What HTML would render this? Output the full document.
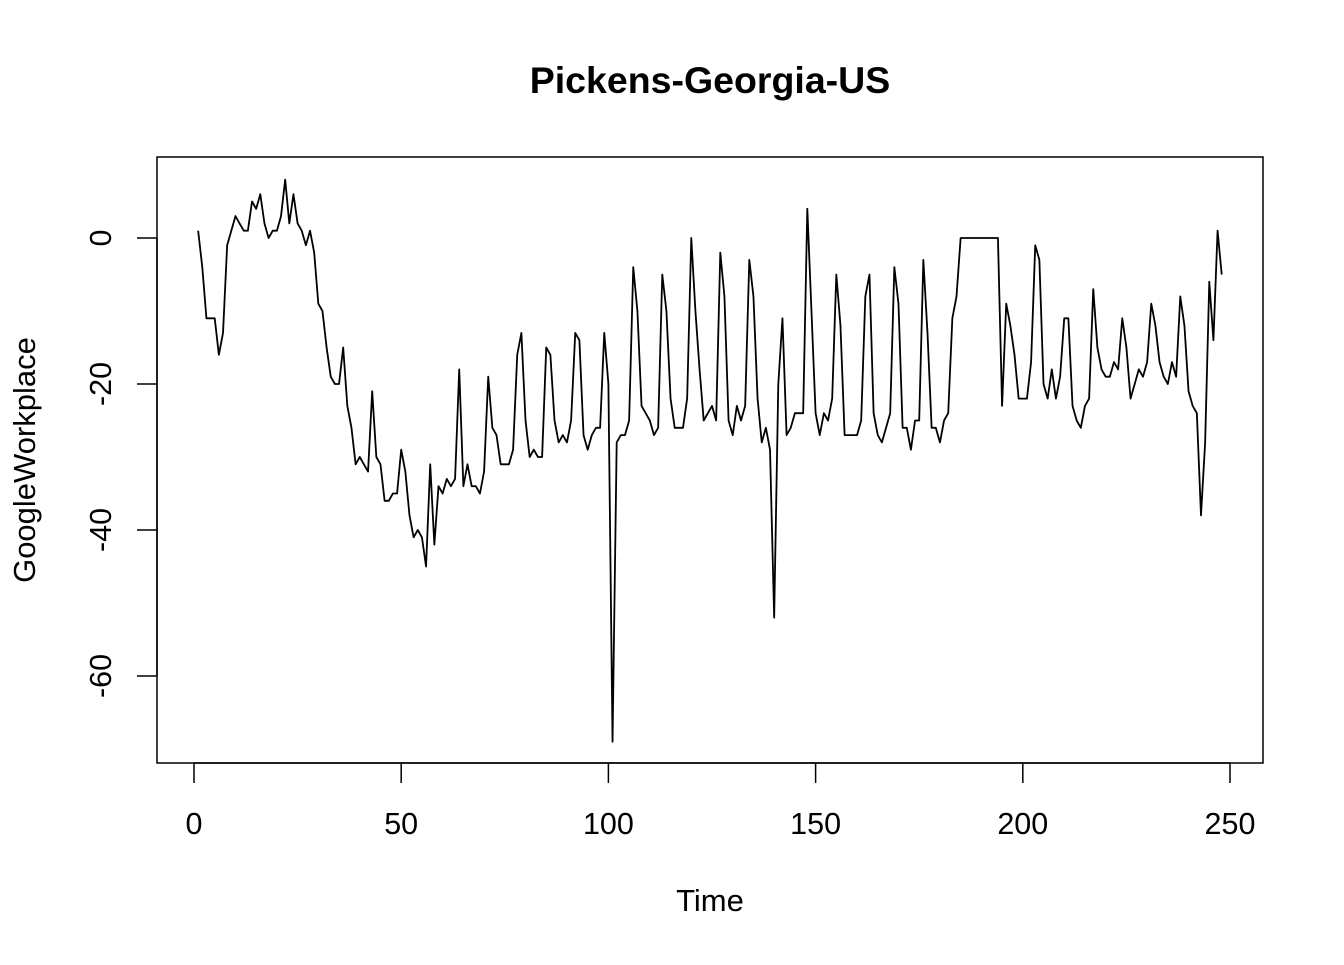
<!DOCTYPE html>
<html><head><meta charset="utf-8"><style>
body{margin:0;background:#fff}
svg text{font-family:"Liberation Sans",Arial,sans-serif;fill:#000}
</style></head><body>
<svg id="chart" width="1344" height="960" viewBox="0 0 1344 960" xmlns="http://www.w3.org/2000/svg">
<rect width="1344" height="960" fill="#fff"/>
<text x="710" y="93" font-size="37.5" font-weight="bold" text-anchor="middle">Pickens-Georgia-US</text>
<rect x="157" y="157" width="1106" height="606" fill="none" stroke="#000" stroke-width="1.5"/>
<g id="xaxis"></g>
<g id="yaxis"></g>
<text x="710" y="911" font-size="31" text-anchor="middle">Time</text>
<text transform="translate(35,460) rotate(-90)" font-size="31" text-anchor="middle">GoogleWorkplace</text>
<g id="series"></g>
</svg>
<script>
const xTicks=[0,50,100,150,200,250];
const yTicks=[0,-20,-40,-60];
const values=[1,-4,-11,-11,-11,-16,-13,-1,1,3,
2,1,1,5,4,6,2,0,1,1,
3,8,2,6,2,1,-1,1,-2,-9,
-10,-15,-19,-20,-20,-15,-23,-26,-31,-30,
-31,-32,-21,-30,-31,-36,-36,-35,-35,-29,
-32,-38,-41,-40,-41,-45,-31,-42,-34,-35,
-33,-34,-33,-18,-34,-31,-34,-34,-35,-32,
-19,-26,-27,-31,-31,-31,-29,-16,-13,-25,
-30,-29,-30,-30,-15,-16,-25,-28,-27,-28,
-25,-13,-14,-27,-29,-27,-26,-26,-13,-20,
-69,-28,-27,-27,-25,-4,-10,-23,-24,-25,
-27,-26,-5,-10,-22,-26,-26,-26,-22,0,
-10,-18,-25,-24,-23,-25,-2,-8,-25,-27,
-23,-25,-23,-3,-8,-22,-28,-26,-29,-52,
-20,-11,-27,-26,-24,-24,-24,4,-10,-24,
-27,-24,-25,-22,-5,-12,-27,-27,-27,-27,
-25,-8,-5,-24,-27,-28,-26,-24,-4,-9,
-26,-26,-29,-25,-25,-3,-13,-26,-26,-28,
-25,-24,-11,-8,0,0,0,0,0,0,
0,0,0,0,-23,-9,-12,-16,-22,-22,
-22,-17,-1,-3,-20,-22,-18,-22,-19,-11,
-11,-23,-25,-26,-23,-22,-7,-15,-18,-19,
-19,-17,-18,-11,-15,-22,-20,-18,-19,-17,
-9,-12,-17,-19,-20,-17,-19,-8,-12,-21,
-23,-24,-38,-28,-6,-14,1,-5];
const NS='http://www.w3.org/2000/svg';
const xs=t=>194+t*(1230-194)/250;
function ysc(v){return 238-v*(676-238)/60;}
const xa=document.getElementById('xaxis'),ya=document.getElementById('yaxis');
function mk(tag,attrs,parent){const e=document.createElementNS(NS,tag);for(const k in attrs)e.setAttribute(k,attrs[k]);parent.appendChild(e);return e;}
mk('line',{x1:xs(xTicks[0]),x2:xs(xTicks[xTicks.length-1]),y1:763,y2:763,stroke:'#000','stroke-width':1.5},xa);
xTicks.forEach(t=>{
  const l=mk('line',{x1:xs(t),x2:xs(t),y1:763,y2:783,stroke:'#000','stroke-width':1.5},xa);
  
  
  const tx=mk('text',{x:xs(t),y:834,'font-size':30.5,'text-anchor':'middle'},xa);
  tx.textContent=t;
  
  
});
mk('line',{x1:157,x2:157,y1:ysc(yTicks[0]),y2:ysc(yTicks[yTicks.length-1]),stroke:'#000','stroke-width':1.5},ya);
yTicks.forEach(v=>{
  const l=mk('line',{x1:137,x2:157,y1:ysc(v),y2:ysc(v),stroke:'#000','stroke-width':1.5},ya);
  
  
  const tx=mk('text',{transform:`translate(111,${ysc(v)}) rotate(-90)`,'font-size':30.5,'text-anchor':'middle'},ya);
  tx.textContent=v;
  
  
});
const pts=values.map((v,i)=>xs(i+1).toFixed(2)+','+ysc(v).toFixed(2)).join(' ');
const line=mk('polyline',{points:pts,fill:'none',stroke:'#000','stroke-width':1.8,'stroke-linejoin':'round'},document.getElementById('series'));


</script>
</body></html>
